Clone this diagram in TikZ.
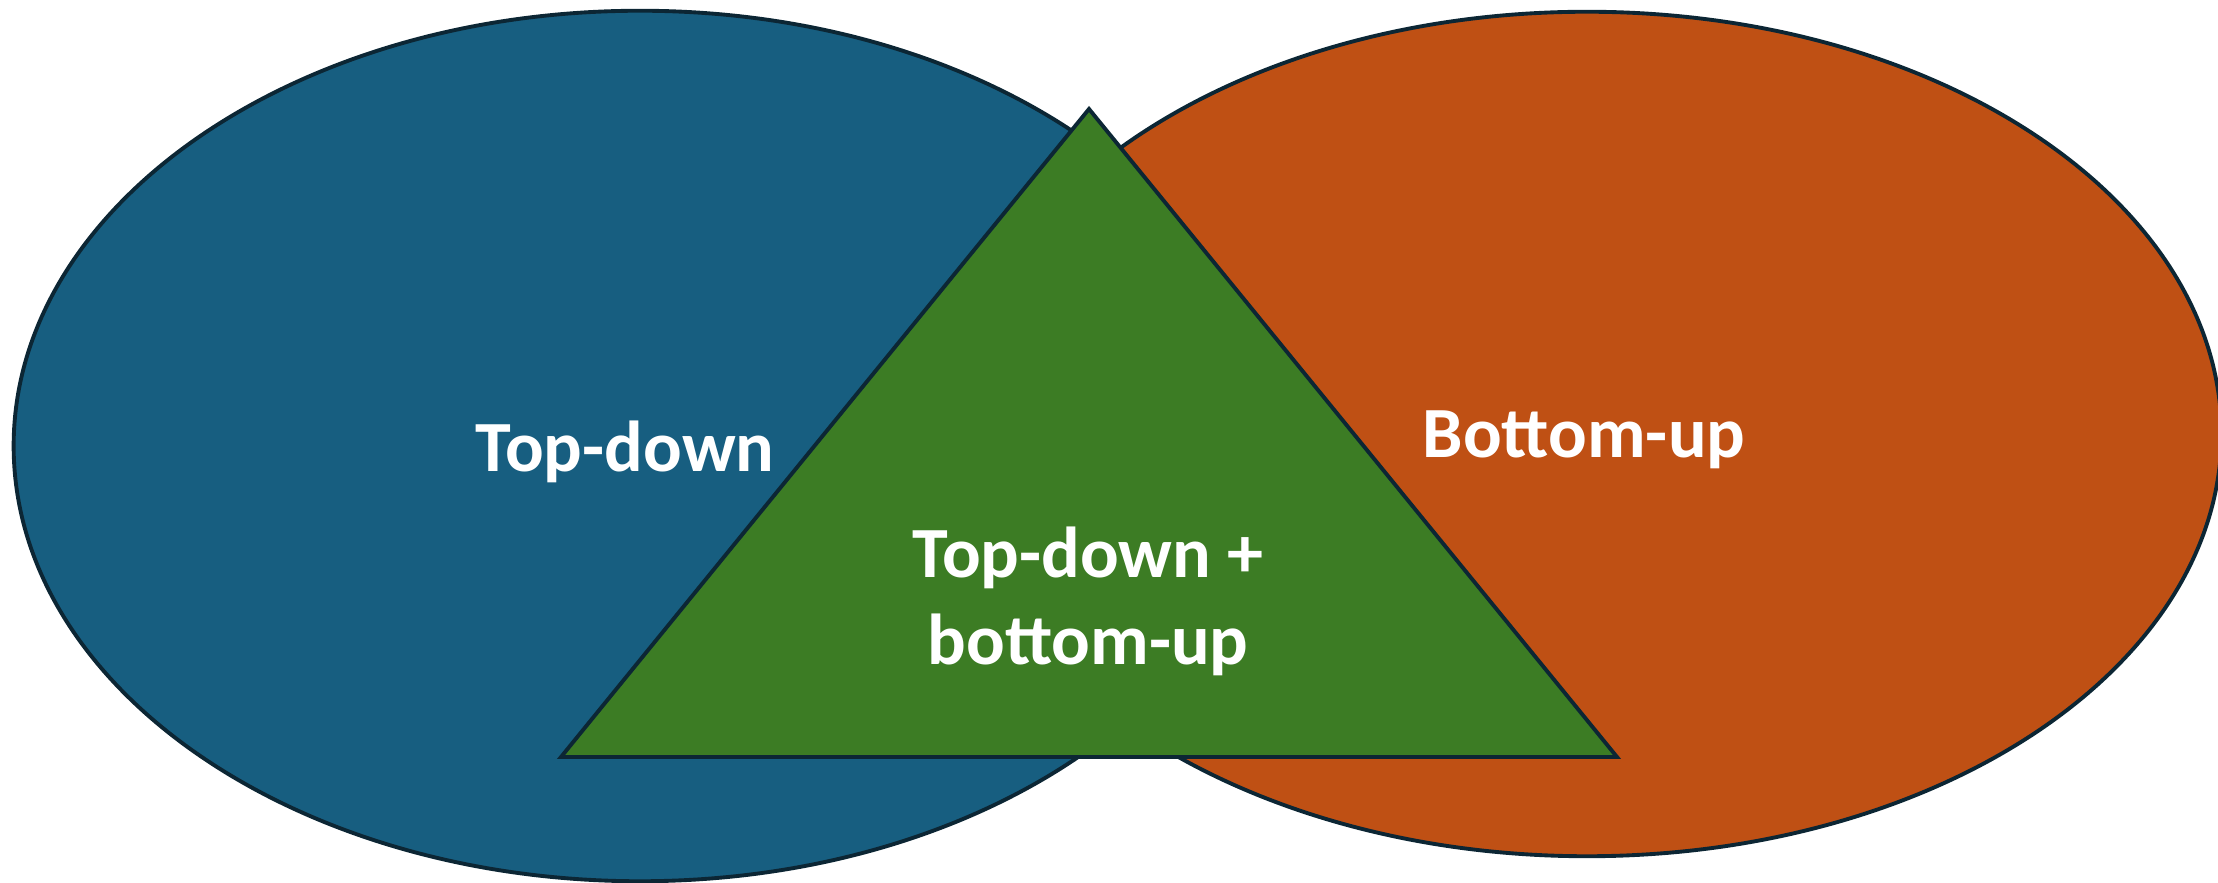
\documentclass[tikz,border=0pt]{standalone}
\usepackage{fontspec}
\setmainfont{Carlito}
\definecolor{tdblue}{RGB}{23,94,128}
\definecolor{buorange}{RGB}{191,80,20}
\definecolor{mixgreen}{RGB}{60,124,36}
\definecolor{rim}{RGB}{12,38,52}
\tikzstyle{area} = [draw=rim, line width=1.1pt, line join=miter]
\tikzstyle{lbl} = [text=white, inner sep=0pt, align=center, font=\bfseries\fontsize{20.5}{25}\selectfont]

\begin{document}
\begin{tikzpicture}[x=0.01cm, y=-0.01cm]
    \useasboundingbox (0, 0) rectangle (2218, 883);
    \coordinate (TD) at (640, 446);
    \coordinate (BU) at (1587, 434);
    \coordinate (A) at (1089, 109);
    \coordinate (L) at (561, 757);
    \coordinate (R) at (1617, 757);
    \filldraw[area, fill=tdblue] (TD) ellipse [x radius=6.26cm, y radius=4.35cm];
    \filldraw[area, fill=buorange] (BU) ellipse [x radius=6.34cm, y radius=4.22cm];
    \filldraw[area, fill=mixgreen] (A) -- (R) -- (L) -- cycle;
    \node[lbl, anchor=base] (TDtext) at (625, 472) {Top-down};
    \node[lbl, anchor=base] (BUtext) at (1584, 458) {Bottom-up};
    \node[lbl, anchor=base] (MIXtext) at (1088, 665) {Top-down +\\bottom-up};
\end{tikzpicture}
\end{document}
